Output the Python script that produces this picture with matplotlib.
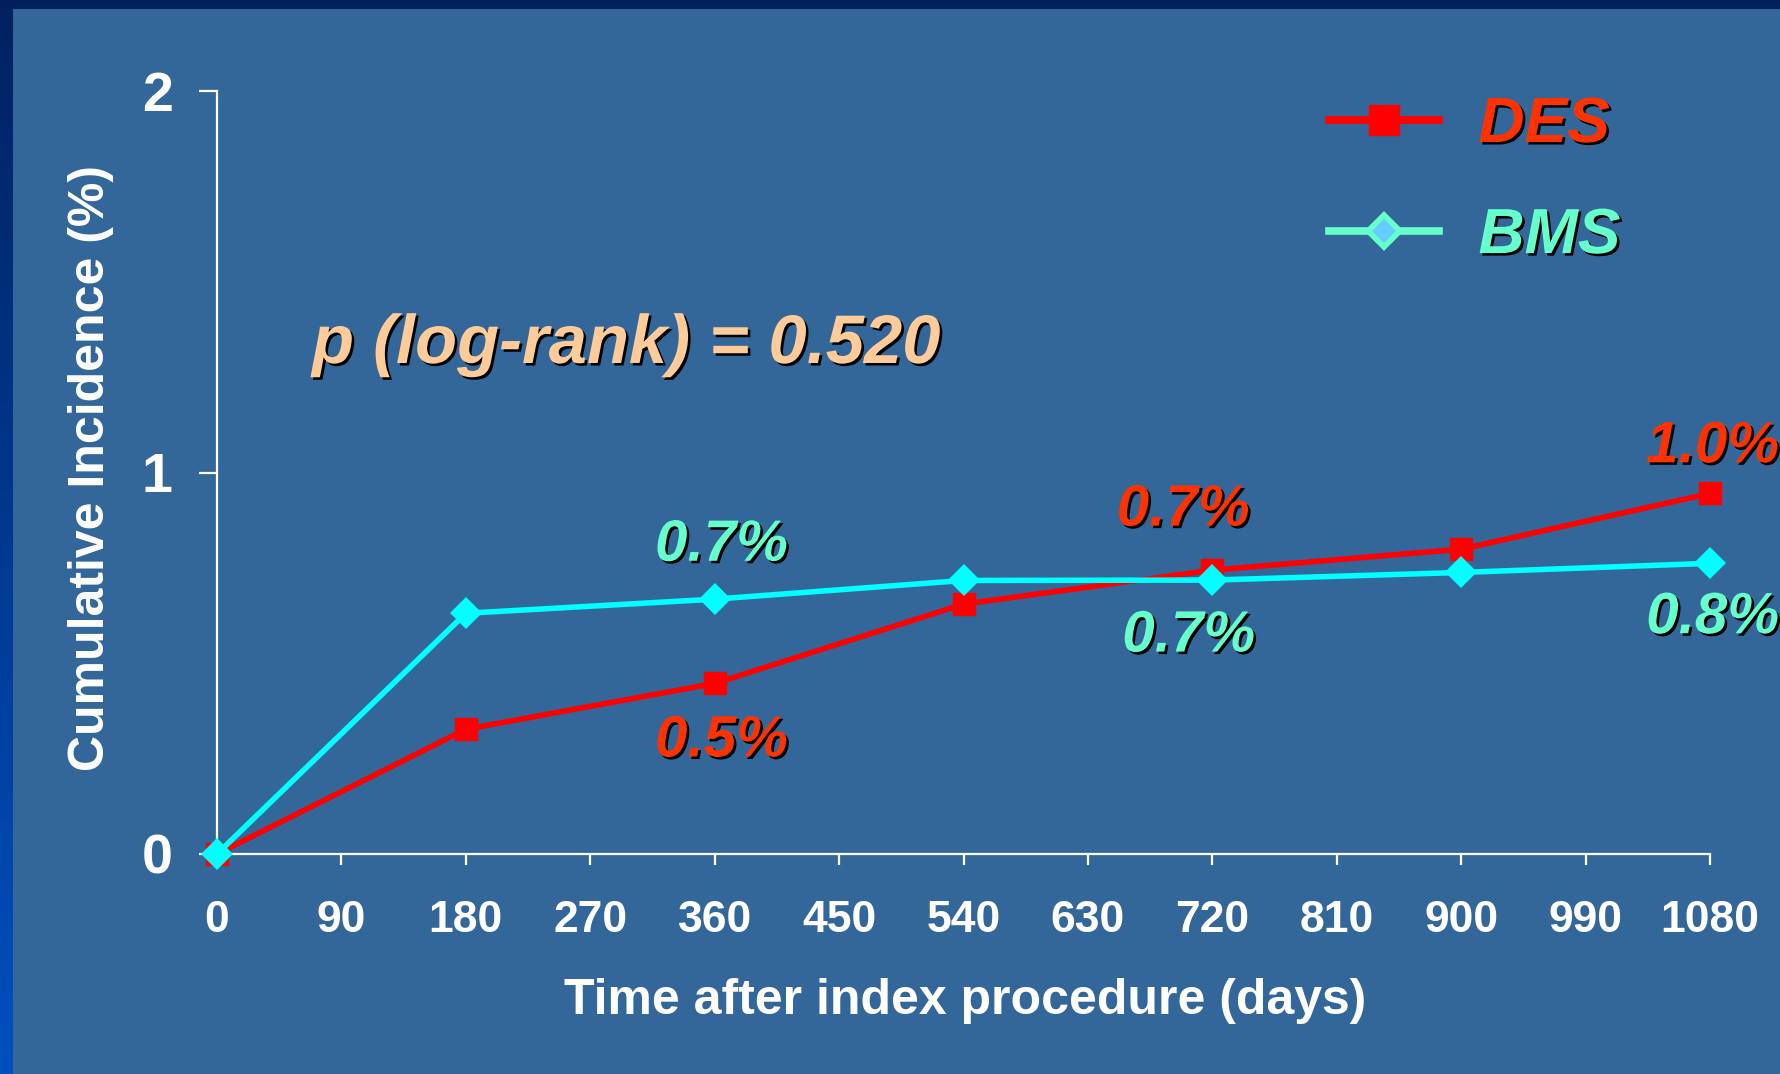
import numpy as np
import matplotlib
matplotlib.use("Agg")
import matplotlib.pyplot as plt
from matplotlib import patheffects as pe
from matplotlib.lines import Line2D
from matplotlib.colors import LinearSegmentedColormap

# ---- data ----
days = [0, 180, 360, 540, 720, 900, 1080]
des = [0.0, 0.327, 0.447, 0.655, 0.744, 0.799, 0.945]
bms = [0.0, 0.631, 0.668, 0.717, 0.718, 0.738, 0.762]
x_ticks = [0, 90, 180, 270, 360, 450, 540, 630, 720, 810, 900, 990, 1080]
y_ticks = [0, 1, 2]
series_names = ["DES", "BMS"]
# labels: (text, x, y)
des_labels = [("0.5%", 365, 0.295), ("0.7%", 699, 0.900), ("1.0%", 1082, 1.066)]
bms_labels = [("0.7%", 365, 0.808), ("0.7%", 703, 0.570), ("0.8%", 1082, 0.618)]
p_text = "p (log-rank) = 0.520"

BG = "#336699"
RED_LINE = "#ff0000"
RED_TEXT = "#ff3300"
CYAN_LINE = "#00ffff"
BMS_TEXT = "#66ffcc"
P_COLOR = "#ffcc99"
FONT = "Liberation Sans"

W, H = 1781, 1074
fig = plt.figure(figsize=(W / 100, H / 100), dpi=100, facecolor=BG)

# frame strips
top = fig.add_axes([0, 1 - 9 / H, 1, 9 / H])
top.set_axis_off()
top.add_patch(plt.Rectangle((0, 0), 1, 1, color="#001f5b", transform=top.transAxes))
left = fig.add_axes([0, 0, 13 / W, 1 - 9 / H])
left.set_axis_off()
grad = np.linspace(0, 1, 256).reshape(-1, 1)
cm = LinearSegmentedColormap.from_list("g", ["#002260", "#0050bf"])
left.imshow(grad, aspect="auto", cmap=cm, extent=[0, 1, 0, 1], origin="upper")

ax = fig.add_axes([217 / W, 1 - 854 / H, (1710 - 217) / W, (854 - 91) / H])
ax.set_facecolor("none")
ax.set_xlim(0, 1080)
ax.set_ylim(0, 2)

for s in ["top", "right"]:
    ax.spines[s].set_visible(False)
for s in ["left", "bottom"]:
    ax.spines[s].set_color("white")
    ax.spines[s].set_linewidth(1.6)

ax.plot(days, des, color=RED_LINE, lw=4.0, marker="s", ms=16.5, mfc=RED_LINE,
        mec=RED_LINE, clip_on=False, zorder=3)
ax.plot(days, bms, color=CYAN_LINE, lw=4.0, marker="D", ms=16.5, mfc=CYAN_LINE,
        mec=CYAN_LINE, mew=0, clip_on=False, zorder=4)

ax.set_xticks(x_ticks)
ax.set_xticklabels([str(t) for t in x_ticks])
ax.set_yticks(y_ticks)
ax.set_yticklabels([str(t) for t in y_ticks])
ax.tick_params(axis="x", colors="white", length=8, width=1.6, pad=25,
               labelsize=32)
ax.tick_params(axis="y", colors="white", length=13, width=1.6, pad=19,
               labelsize=40)
for lab in ax.get_xticklabels() + ax.get_yticklabels():
    lab.set_fontfamily(FONT)
    lab.set_fontweight("bold")

ax.set_xlabel("Time after index procedure (days)", fontsize=36, fontweight="bold",
              color="white", fontfamily=FONT, va="center")
ax.xaxis.set_label_coords(0.501, -0.193)
ax.set_ylabel("Cumulative Incidence (%)", fontsize=36, fontweight="bold",
              color="white", fontfamily=FONT, va="center")
ax.yaxis.set_label_coords(-0.0844, 0.506)

shadow = [pe.withSimplePatchShadow(offset=(1.8, -1.8), shadow_rgbFace="black", alpha=1.0)]

for txt, x, y in des_labels:
    ax.text(x, y, txt, color=RED_TEXT, fontsize=42, fontweight="bold", style="italic",
            fontfamily=FONT, ha="center", va="center", path_effects=shadow, zorder=5)
for txt, x, y in bms_labels:
    ax.text(x, y, txt, color=BMS_TEXT, fontsize=42, fontweight="bold", style="italic",
            fontfamily=FONT, ha="center", va="center", path_effects=shadow, zorder=5)

ax.text((312 - 217) / 1493, (854 - 363) / 763, p_text, transform=ax.transAxes,
        color=P_COLOR, fontsize=49.5, fontweight="bold", style="italic", fontfamily=FONT,
        ha="left", va="baseline", path_effects=shadow)

handles = [
    Line2D([], [], color=RED_LINE, lw=5.5, marker="s", ms=21.6, mfc=RED_LINE, mec=RED_LINE),
    Line2D([], [], color=BMS_TEXT, lw=5.5, marker="D", ms=16, mfc="#66ccff",
           mec=BMS_TEXT, mew=4),
]
leg = fig.legend(handles, series_names, loc="upper left",
                 bbox_to_anchor=(1329 / W, 1 - 95 / H), frameon=False,
                 borderpad=0, borderaxespad=0, handlelength=1.72, handletextpad=0.62,
                 labelspacing=0.80,
                 prop={"family": FONT, "weight": "bold", "style": "italic", "size": 46})
for t, c in zip(leg.get_texts(), [RED_TEXT, BMS_TEXT]):
    t.set_color(c)
    t.set_path_effects(shadow)

fig.savefig("out.png", dpi=100, facecolor=BG)
